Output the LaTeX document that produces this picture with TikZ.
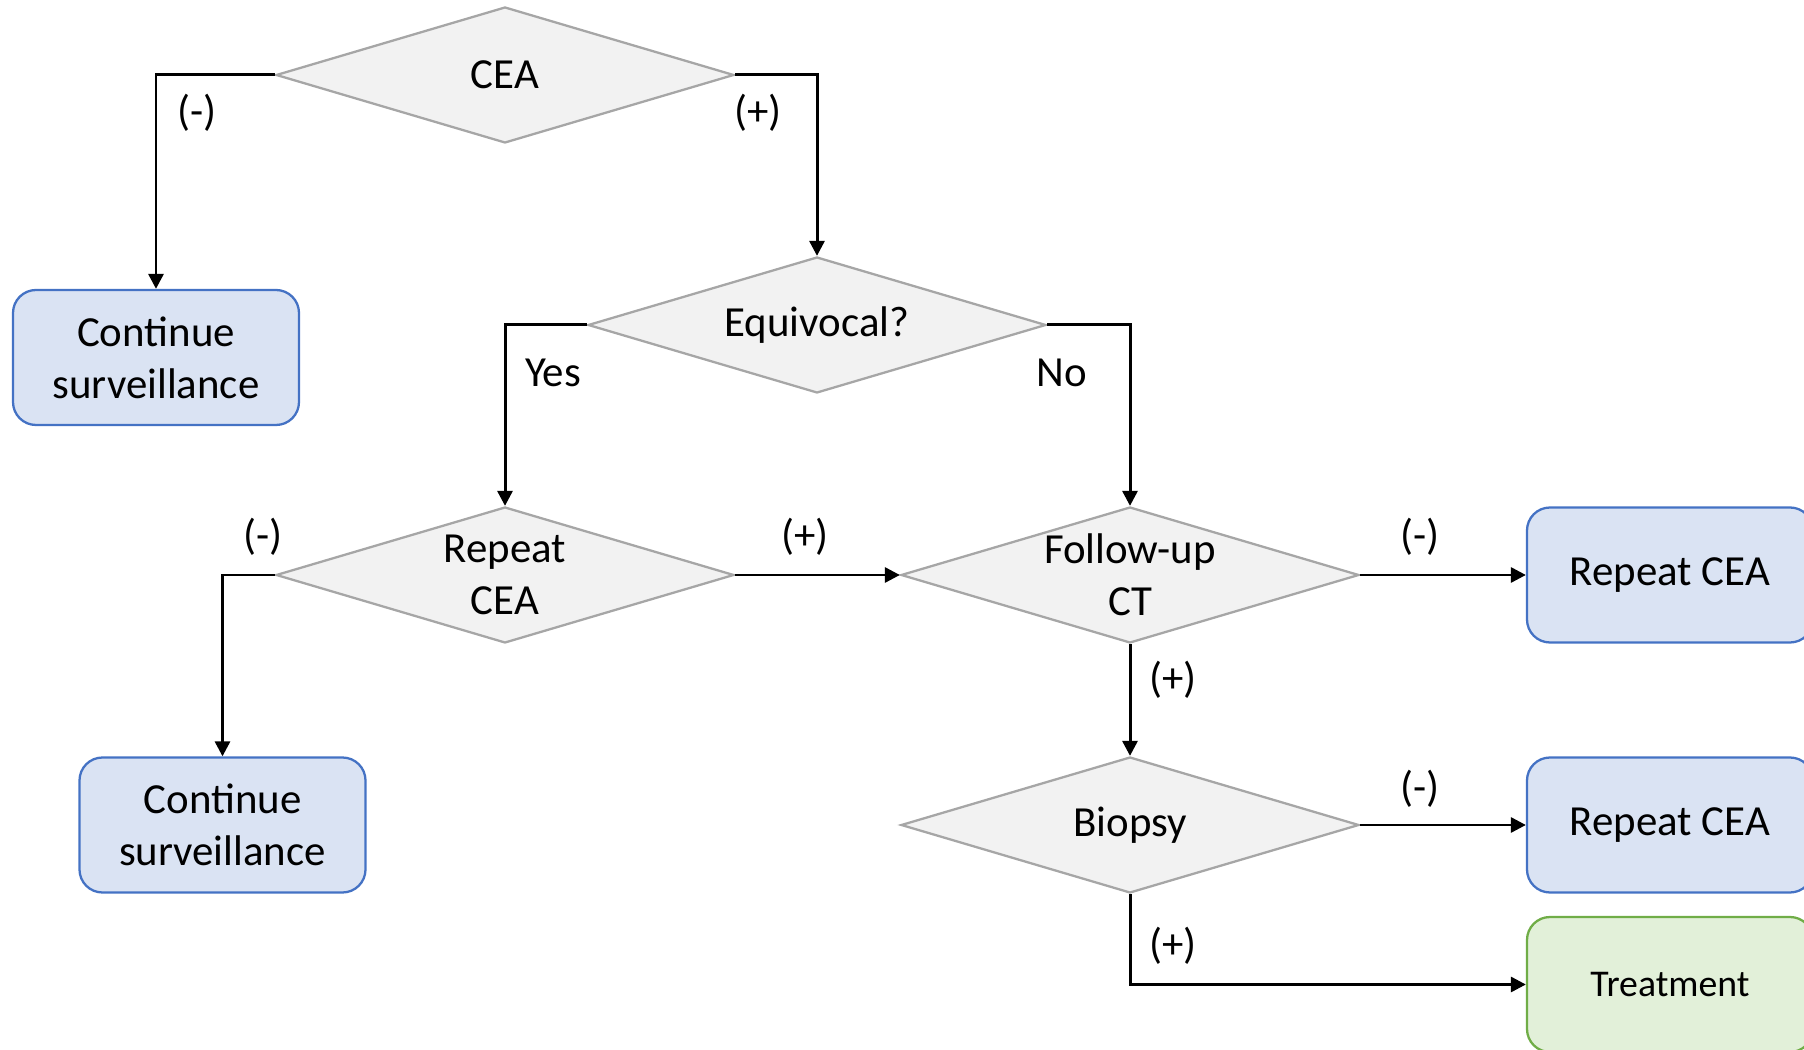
\documentclass[tikz,border=0pt]{standalone}
\usepackage{fontspec}
\setmainfont{Carlito}
\usetikzlibrary{
    arrows.meta,
    shapes.geometric,
    positioning
}
\definecolor{decisionfill}{HTML}{F2F2F2}
\definecolor{decisionline}{HTML}{A6A6A6}
\definecolor{actionfill}{HTML}{DAE3F3}
\definecolor{actionline}{HTML}{4472C4}
\definecolor{treatfill}{HTML}{E2F0D9}
\definecolor{treatline}{HTML}{70AD47}
\tikzset{
    decision/.style={
        diamond,
        draw=decisionline,
        fill=decisionfill,
        line width=1.3pt,
        minimum width=9.16cm,
        minimum height=2.72cm,
        inner sep=0pt
    },
    decision text/.style={
        align=center,
        inner sep=0pt
    },
    action/.style={
        draw=actionline,
        fill=actionfill,
        rounded corners=0.46cm,
        line width=1.3pt,
        minimum width=5.72cm,
        minimum height=2.70cm,
        align=center
    },
    outcome/.style={
        action,
        draw=treatline,
        fill=treatfill,
        font=\fontsize{21.5}{26}\selectfont
    },
    flow/.style={
        -{Triangle[length=3mm, width=3mm]},
        line width=1.7pt,
        draw=black
    },
    branch label/.style={
        inner sep=0pt
    }
}

\begin{document}
\begin{tikzpicture}[font=\fontsize{24.4}{29.5}\selectfont]

    \useasboundingbox (0,0) rectangle (36.08,20.98);

    % -------------------------------------------------------------------------
    % Decisions.
    % -------------------------------------------------------------------------
    \node[decision] (cea) at (10.10,19.48) {};
    \node[decision text] (cea text) at (cea) {CEA};

    \node[decision] (equiv) at (16.34,14.48) {};
    \node[decision text] (equiv text) at (equiv) {Equivocal?};

    \node[decision] (rep) at (10.10,9.48) {};
    \node[decision text] (rep text) at (rep) {Repeat\\CEA};

    \node[decision] (fu) at (22.60,9.48) {};
    \node[decision text] (fu text) at (fu) {Follow-up\\CT};

    \node[decision] (bio) at (22.60,4.48) {};
    \node[decision text] (bio text) at (bio) {Biopsy};

    % -------------------------------------------------------------------------
    % Actions.
    % -------------------------------------------------------------------------
    \node[action] (cs1) at (3.12,13.83) {Continue\\surveillance};
    \node[action] (cs2) at (4.45,4.48) {Continue\\surveillance};
    \node[action] (rc1) at (33.40,9.48) {Repeat CEA};
    \node[action] (rc2) at (33.40,4.48) {Repeat CEA};
    \node[outcome] (treat) at (33.40,1.29) {Treatment};

    % -------------------------------------------------------------------------
    % Connectors.
    % -------------------------------------------------------------------------
    \draw[flow] (cea.west) -| (cs1.north);
    \draw[flow] (cea.east) -| (equiv.north);
    \draw[flow] (equiv.west) -| (rep.north);
    \draw[flow] (equiv.east) -| (fu.north);
    \draw[flow] (rep.west) -| (cs2.north);
    \draw[flow] (rep.east) -- (fu.west);
    \draw[flow] (fu.east) -- (rc1.west);
    \draw[flow] (fu.south) -- (bio.north);
    \draw[flow] (bio.east) -- (rc2.west);
    \draw[flow] (bio.south) |- (treat.west);

    % Branch labels.
    \node[branch label] (l cea neg) at (3.94,18.72) {(-)};
    \node[branch label] (l cea pos) at (15.16,18.72) {(+)};
    \node[branch label] (l yes) at (11.06,13.52) {Yes};
    \node[branch label] (l no) at (21.24,13.52) {No};
    \node[branch label] (l rep neg) at (5.26,10.24) {(-)};
    \node[branch label] (l rep pos) at (16.10,10.24) {(+)};
    \node[branch label] (l fu neg) at (28.40,10.24) {(-)};
    \node[branch label] (l fu pos) at (23.46,7.38) {(+)};
    \node[branch label] (l bio neg) at (28.40,5.20) {(-)};
    \node[branch label] (l bio pos) at (23.46,2.06) {(+)};

\end{tikzpicture}
\end{document}
